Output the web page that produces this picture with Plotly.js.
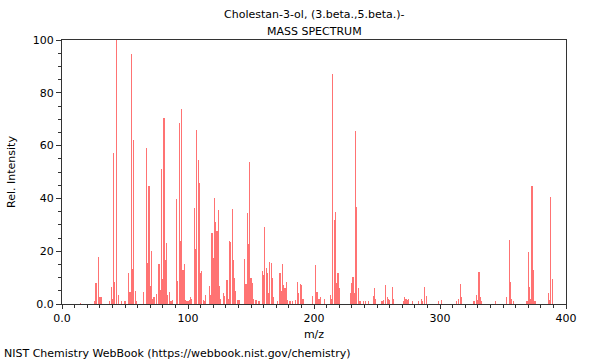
<!DOCTYPE html>
<html>
<head>
<meta charset="utf-8">
<script src="https://cdn.plot.ly/plotly-3.0.1.min.js"></script>
<style>html,body{margin:0;padding:0;background:#fff;}#chart{width:600px;height:360px;}</style>
</head>
<body>
<div id="chart"></div>
<script>
const mz = [15,26,27,29,30,31,38,39,40,41,42,43,45,47,50,53,54,55,56,57,58,59,65,67,68,69,70,71,72,73,75,77,78,79,80,81,82,83,84,85,86,87,88,91,92,93,94,95,96,97,98,99,100,101,102,103,105,106,107,108,109,110,111,112,113,114,117,118,119,120,121,122,123,124,125,126,128,129,131,132,133,134,135,136,137,138,139,140,141,145,146,147,148,149,150,151,152,154,156,157,159,160,161,162,163,164,165,166,167,168,171,173,174,175,176,177,178,179,181,183,185,187,188,189,190,191,192,199,201,202,203,204,205,208,213,214,215,216,217,218,219,220,229,230,231,232,233,234,235,236,237,239,241,243,247,248,249,254,255,257,258,259,260,262,263,271,272,273,274,275,278,283,285,286,288,289,299,301,313,315,316,317,327,329,330,331,332,333,344,353,355,356,357,358,369,370,371,372,373,374,375,376,386,387,388,389];
const intensity = [0.5,1,7.8,17.9,2.5,2.5,1,6.6,2,57.3,8.3,100,3.4,1,1,11.6,4.7,94.7,13.3,62.3,5,1,4.7,59.2,15.4,44.8,6.8,20.2,2,2.5,3.8,15,5.3,51,9.3,70.5,16.7,23,3.4,4.7,1,1,1.5,39.6,8.8,68.7,23.7,73.7,12.9,15,1.5,1,1,1.5,2.5,2,36.5,20.7,65.9,54.5,45.7,11.6,12.6,1.5,1,3.4,6.8,3.4,27,17.3,40,31.2,27.6,35.6,6.9,2,4,3,9.1,2,24,23.5,35.8,16.7,9.7,5,1.5,1.5,1.5,17.2,7.6,34.6,22.7,53.8,9.7,7.8,2,1.5,1,1,12.6,11,29.3,13.5,11.6,4,16,15.6,9.7,2.6,1,11.6,5,15,7.2,6,8.2,1.5,1,1.3,1.5,8.5,4,7.6,7.2,2,2,3,14.8,4.7,4.4,2,2.5,2,3.4,2,87,31.8,34.8,7.8,11.6,6,4,7.8,10.4,4.2,65.6,36.9,6,1,1,1,1,1,3,5.9,2,1,1.5,7.2,2.5,2,1.5,6.6,2,1,2.5,2,1.5,2,1,1,2,1,6.6,3,1,1.5,1,2,7.5,2.5,1,3.5,1.5,12,2.5,1,1,2.5,24.2,8.5,2,1,1,19.7,6.6,2,44.7,12.9,1,1,4,1.5,40.4,9.5];
const titleLines = ['Cholestan-3-ol, (3.beta.,5.beta.)-', 'MASS SPECTRUM'];
const xTicks = [0,100,200,300,400];
const xTickText = ['0.0','100','200','300','400'];
const yTicks = [0,20,40,60,80,100];
const yTickText = ['0.0','20','40','60','80','100'];

const font = {family: 'DejaVu Sans, sans-serif', size: 11, color: '#000'};
const data = [{
  type: 'bar', x: mz, y: intensity, width: 0.9,
  marker: {color: 'rgba(255,0,0,0.55)', line: {width: 0}},
  hoverinfo: 'x+y'
}];
const layout = {
  width: 600, height: 360,
  margin: {l: 62, r: 34, t: 40, b: 56},
  paper_bgcolor: '#fff', plot_bgcolor: '#fff',
  font: font,
  showlegend: false,
  bargap: 0,
  xaxis: {
    range: [0, 400], tickvals: xTicks, ticktext: xTickText,
    ticks: 'outside', ticklen: 4, tickcolor: '#333', tickwidth: 1,
    showline: true, linecolor: '#333', linewidth: 1, mirror: true,
    showgrid: false, zeroline: false,
    minor: {dtick: 10, tick0: 0, ticks: 'outside', ticklen: 3, tickcolor: '#333', showgrid: false},
    title: {text: 'm/z', font: font, standoff: 6},
    tickfont: font
  },
  yaxis: {
    range: [0, 100], tickvals: yTicks, ticktext: yTickText,
    ticks: 'outside', ticklen: 5, tickcolor: '#333', tickwidth: 1,
    showline: true, linecolor: '#333', linewidth: 1, mirror: true,
    showgrid: false, zeroline: false,
    minor: {dtick: 5, tick0: 0, ticks: 'outside', ticklen: 3, tickcolor: '#333', showgrid: false},
    title: {text: 'Rel. Intensity', font: font, standoff: 14},
    tickfont: font
  },
  annotations: [
    {text: titleLines[0], xref: 'paper', yref: 'paper', x: 0.5, y: 1, yshift: 26, xanchor: 'center', yanchor: 'middle', showarrow: false, font: font},
    {text: titleLines[1], xref: 'paper', yref: 'paper', x: 0.5, y: 1, yshift: 9, xanchor: 'center', yanchor: 'middle', showarrow: false, font: font},
    {text: 'NIST Chemistry WebBook (https://webbook.nist.gov/chemistry)', xref: 'paper', yref: 'paper', x: 0, xshift: -60, y: 0, yshift: -49, xanchor: 'left', yanchor: 'middle', showarrow: false, font: font}
  ]
};
Plotly.newPlot('chart', data, layout, {displayModeBar: false, staticPlot: true});
</script>
</body>
</html>
